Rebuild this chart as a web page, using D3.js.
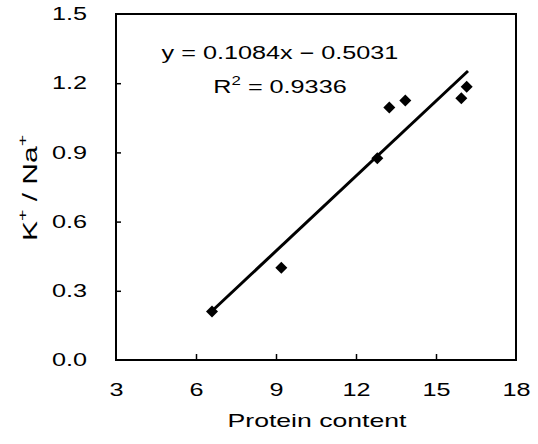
<!DOCTYPE html>
<html>
<head>
<meta charset="utf-8">
<script src="https://cdn.jsdelivr.net/npm/d3@7"></script>
<style>
  body { margin: 0; background: #fff; }
  text { font-family: "Liberation Sans", Arial, Helvetica, sans-serif; fill: #000; }
</style>
</head>
<body>
<div id="chart"></div>
<script>
// Data
const protein = [6.6, 9.2, 12.8, 13.25, 13.85, 15.95, 16.15];
const ratio = [0.21, 0.40, 0.875, 1.095, 1.125, 1.135, 1.185];

// Regression shown on the plot
const slope = 0.1084;
const intercept = -0.5031;
const rSquared = 0.9336;
const fitRange = [6.6, 16.2];

const xTicks = [3, 6, 9, 12, 15, 18];
const yTicks = [0, 0.3, 0.6, 0.9, 1.2, 1.5];

const margin = { top: 14, right: 22, bottom: 84, left: 116 };
const width = 538 - margin.left - margin.right;
const height = 444 - margin.top - margin.bottom;

const svgRoot = d3.select("#chart")
  .append("svg")
  .attr("width", 538)
  .attr("height", 444);

const svg = svgRoot.append("g")
  .attr("transform", `translate(${margin.left},${margin.top})`);

const xScale = d3.scaleLinear().domain([3, 18]).range([0, width]);
const yScale = d3.scaleLinear().domain([0, 1.5]).range([height, 0]);

// stretch text horizontally, the original font is wide
function widen(sel, k) {
  sel.each(function () {
    const len = this.getComputedTextLength();
    d3.select(this).attr("textLength", len * k).attr("lengthAdjust", "spacingAndGlyphs");
  });
}

// axes with inward ticks
const xAxis = d3.axisBottom(xScale)
  .tickValues(xTicks)
  .tickFormat(d3.format("d"))
  .tickSizeInner(-6)
  .tickSizeOuter(0)
  .tickPadding(23);

const yAxis = d3.axisLeft(yScale)
  .tickValues(yTicks)
  .tickFormat(d3.format(".1f"))
  .tickSizeInner(-5)
  .tickSizeOuter(0)
  .tickPadding(29);

const gx = svg.append("g")
  .attr("transform", `translate(0,${height})`)
  .call(xAxis);
const gy = svg.append("g").call(yAxis);

[gx, gy].forEach((g) => {
  g.select(".domain").remove();
  g.selectAll(".tick line").attr("stroke", "#000").attr("stroke-width", 1.5);
  g.selectAll(".tick text").attr("font-size", 18).attr("fill", "#000");
});
gx.selectAll(".tick line").filter((d) => d === 3 || d === 18).remove();
gy.selectAll(".tick line").filter((d) => d === 0 || d === 1.5).remove();
widen(gx.selectAll(".tick text"), 1.4);
widen(gy.selectAll(".tick text"), 1.4);

// frame
svg.append("rect")
  .attr("x", 0)
  .attr("y", 0)
  .attr("width", width)
  .attr("height", height)
  .attr("fill", "none")
  .attr("stroke", "#000")
  .attr("stroke-width", 2);

// regression line
const line = d3.line()
  .x((d) => xScale(d))
  .y((d) => yScale(slope * d + intercept));

svg.append("path")
  .datum(fitRange)
  .attr("d", line)
  .attr("fill", "none")
  .attr("stroke", "#000")
  .attr("stroke-width", 3);

// points
const diamond = d3.symbol(d3.symbolSquare, 72);
svg.selectAll(".point")
  .data(protein)
  .enter()
  .append("path")
  .attr("class", "point")
  .attr("d", diamond)
  .attr("transform", (d, i) => `translate(${xScale(d)},${yScale(ratio[i])}) rotate(45)`)
  .attr("fill", "#000");

// equation
const eq = svg.append("text")
  .attr("x", 164)
  .attr("y", 45)
  .attr("text-anchor", "middle")
  .attr("font-size", 18)
  .text(`y = ${slope}x \u2212 ${Math.abs(intercept).toFixed(4)}`);
widen(eq, 1.4);

const r2 = svg.append("text")
  .attr("x", 164)
  .attr("y", 79)
  .attr("text-anchor", "middle")
  .attr("font-size", 18);
r2.append("tspan").text("R");
r2.append("tspan").attr("font-size", 12).attr("dy", -8).text("2");
r2.append("tspan").attr("dy", 8).text(` = ${rSquared}`);
widen(r2, 1.4);

// axis titles
const xTitle = svgRoot.append("text")
  .attr("x", 317)
  .attr("y", 427)
  .attr("text-anchor", "middle")
  .attr("font-size", 19)
  .text("Protein content");
widen(xTitle, 1.4);

const yTitle = svgRoot.append("text")
  .attr("transform", "translate(37,188) rotate(-90)")
  .attr("text-anchor", "middle")
  .attr("font-size", 20);
yTitle.append("tspan").text("K");
yTitle.append("tspan").attr("font-size", 13).attr("dy", -10).text("+");
yTitle.append("tspan").attr("dy", 10).text(" / Na");
yTitle.append("tspan").attr("font-size", 13).attr("dy", -10).text("+");
widen(yTitle, 1.5);
</script>
</body>
</html>
